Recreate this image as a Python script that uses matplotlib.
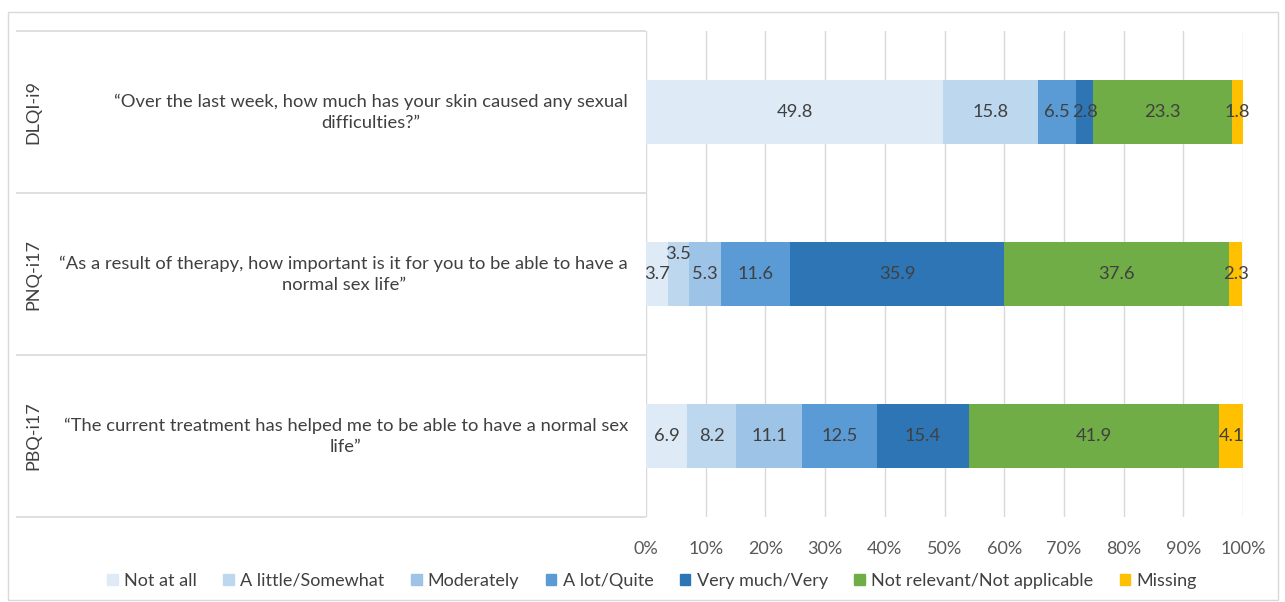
import numpy as np
import matplotlib
matplotlib.use('Agg')
import matplotlib.pyplot as plt
from matplotlib.patches import Rectangle

plt.rcParams['font.family'] = ['Lato', 'DejaVu Sans']

# ---------------------------------------------------------
# data
# ---------------------------------------------------------
groups = ['DLQI-i9', 'PNQ-i17', 'PBQ-i17']
questions = [
    '\u201cOver the last week, how much has your skin caused any sexual\ndifficulties?\u201d',
    '\u201cAs a result of therapy, how important is it for you to be able to have a\nnormal sex life\u201d',
    '\u201cThe current treatment has helped me to be able to have a normal sex\nlife\u201d',
]
categories = ['Not at all', 'A little/Somewhat', 'Moderately', 'A lot/Quite',
              'Very much/Very', 'Not relevant/Not applicable', 'Missing']
not_at_all = [49.8, 3.7, 6.9]
a_little = [15.8, 3.5, 8.2]
moderately = [0.0, 5.3, 11.1]
a_lot = [6.5, 11.6, 12.5]
very_much = [2.8, 35.9, 15.4]
not_relevant = [23.3, 37.6, 41.9]
missing = [1.8, 2.3, 4.1]
series = [not_at_all, a_little, moderately, a_lot, very_much, not_relevant, missing]
colors = ['#DEEBF7', '#BDD7EE', '#9DC3E6', '#5B9BD5', '#2E75B6', '#70AD47', '#FFC000']

W, H = 1285, 602
fig = plt.figure(figsize=(W / 100, H / 100), dpi=100)

def fx(px):
    return px / W

def fy(py):
    return 1 - py / H

top, bot = 31, 517
# outer frame
fig.add_artist(Rectangle((fx(8), fy(600)), fx(1278) - fx(8), fy(12) - fy(600),
                         transform=fig.transFigure, fill=False, ec='#d9d9d9', lw=1))

# left "table" region
tl, tr = 17, 645
axl = fig.add_axes([fx(tl), fy(bot), fx(tr) - fx(tl), fy(top) - fy(bot)])
axl.set_xlim(tl, tr)
axl.set_ylim(len(groups) - 0.5, -0.5)
axl.axis('off')
for b in np.arange(-0.5, len(groups), 1.0):
    axl.axhline(b, color='#d9d9d9', lw=1.2, clip_on=False)
for i, (g, q) in enumerate(zip(groups, questions)):
    axl.text(33, i, g, rotation=90, ha='center', va='center',
             fontsize=13, color='#404040')
    axl.text(628, i, q, ha='right', va='center', multialignment='center',
             fontsize=13.2, color='#404040', linespacing=1.4)

# stacked bars
ax = fig.add_axes([fx(646), fy(bot), fx(1243) - fx(646), fy(top) - fy(bot)])
y = np.arange(len(groups))
left = np.zeros(len(groups))
for name, vals, c in zip(categories, series, colors):
    vals = np.array(vals)
    ax.barh(y, vals, left=left, height=0.395, color=c, label=name, zorder=3)
    for yi, v, l in zip(y, vals, left):
        if v <= 0:
            continue
        dy = 0
        if name == 'A little/Somewhat' and v < 4:
            dy = -0.125
        ax.text(l + v / 2, yi + dy, f'{v:.1f}', ha='center', va='center',
                fontsize=13.2, color='#404040', zorder=4)
    left += vals

ax.set_xlim(0, 100)
ax.set_ylim(len(groups) - 0.5, -0.5)
ax.set_xticks(np.arange(0, 101, 10))
ax.set_xticklabels([f'{t}%' for t in range(0, 101, 10)], fontsize=13, color='#595959')
ax.set_yticks([])
ax.tick_params(axis='x', length=0, pad=17)
ax.grid(axis='x', color='#d9d9d9', lw=1, zorder=0)
for s in ax.spines.values():
    s.set_visible(False)

handles = [Rectangle((0, 0), 1, 1, color=c) for c in colors]
fig.legend(handles, categories, loc='center', bbox_to_anchor=(fx(652), fy(581)),
           ncol=7, frameon=False, fontsize=13, handlelength=0.6, handleheight=0.6,
           handletextpad=0.35, columnspacing=1.45, labelcolor='#404040')

fig.savefig('out.png', dpi=100)
